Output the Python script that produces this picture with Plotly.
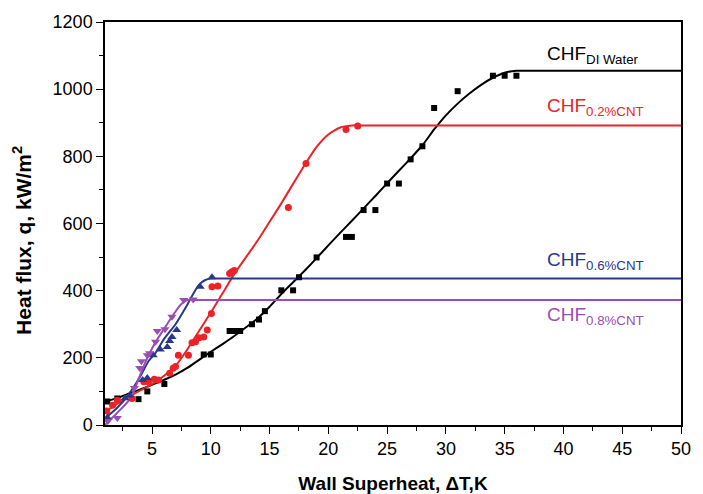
import plotly.graph_objects as go

# ---- measured points ----
di_x = [1.2, 2.05, 3.85, 4.6, 6.05, 9.4, 10.0, 11.6, 12.05, 12.5, 13.5, 14.1, 14.6, 16.0, 17.0, 17.5,
        19.0, 21.5, 22.0, 23.0, 24.0, 25.0, 26.0, 27.0, 28.0, 29.0, 31.0, 34.0, 35.0, 36.0]
di_q = [70, 79, 77, 100, 122, 210, 210, 280, 280, 280, 300, 314, 339, 401, 401, 440,
        499, 560, 560, 640, 640, 719, 719, 791, 830, 944, 994, 1040, 1040, 1040]

c02_x = [1.15, 1.65, 2.05, 3.3, 4.3, 4.7, 5.2, 5.55, 6.5, 6.8, 7.0, 7.24, 8.1, 8.4, 8.7, 9.0, 9.4, 9.7,
         10.05, 10.1, 10.6, 11.6, 11.8, 12.0, 16.6, 18.1, 21.5, 22.5]
c02_q = [42, 59, 74, 79, 129, 129, 136, 134, 154, 169, 174, 208, 208, 245, 248, 260, 262, 283,
         332, 412, 414, 451, 456, 460, 648, 779, 880, 890]

c06_x = [1.2, 2.7, 3.1, 4.2, 4.6, 5.1, 5.7, 6.3, 6.5, 6.7, 7.1, 9.1, 10.1]
c06_q = [22, 80, 88, 134, 140, 208, 225, 232, 250, 262, 283, 412, 440]

c08_x = [1.25, 2.05, 3.5, 3.95, 4.1, 4.6, 4.8, 5.3, 5.45, 6.1, 6.7, 7.7, 8.5]
c08_q = [12, 21, 110, 170, 190, 208, 214, 248, 280, 285, 322, 372, 374]

# ---- fitted curves ----
di_fit_x = [1, 2, 3, 4, 5, 6, 7, 8, 9, 10, 11, 12, 13, 14, 15, 16, 17, 18, 19, 20, 21, 22, 23, 24,
            25, 26, 27, 28, 29, 30, 31, 32, 33, 34, 35, 36, 37, 40, 45, 50]
di_fit_q = [69, 80, 93, 106, 120, 134, 150, 170, 194, 218, 241, 265, 291, 318, 352, 390, 425, 460,
            497, 535, 572, 608, 645, 682, 720, 757, 794, 833, 880, 922, 957, 987, 1013, 1034, 1049,
            1055, 1055, 1055, 1055, 1055]

c02_fit_x = [1, 2, 3, 4, 5, 6, 7, 8, 9, 10, 11, 12, 13, 14, 15, 16, 17, 18, 19, 20, 21, 22, 23, 26,
             30, 40, 50]
c02_fit_q = [40, 62, 83, 103, 122, 146, 176, 225, 280, 335, 392, 450, 500, 550, 605, 660, 718, 775,
             828, 865, 886, 892, 892, 892, 892, 892, 892]

c06_fit_x = [1, 2, 3, 4, 4.7, 5.3, 6, 7, 8, 8.5, 9, 9.5, 10, 11, 13, 20, 30, 40, 50]
c06_fit_q = [20, 50, 90, 145, 190, 215, 255, 300, 358, 390, 418, 431, 436, 436, 436, 436, 436, 436,
             436]

c08_fit_x = [1, 2, 3, 3.5, 4, 4.5, 5, 5.5, 6, 6.5, 7, 7.5, 8, 9, 11, 20, 30, 40, 50]
c08_fit_q = [0, 35, 72, 105, 150, 192, 228, 258, 285, 312, 338, 360, 372, 372, 372, 372, 372, 372,
             372]

BLACK = "#000000"
RED = "#ec2227"
BLUE = "#28398a"
PURPLE = "#9b4db5"

fig = go.Figure()

def fit(x, y, c):
    fig.add_trace(go.Scatter(x=x, y=y, mode="lines", line=dict(color=c, width=2, shape="spline",
                                                                smoothing=0.5),
                             showlegend=False, hoverinfo="skip"))

def pts(x, y, c, sym, size):
    fig.add_trace(go.Scatter(x=x, y=y, mode="markers", marker=dict(color=c, symbol=sym, size=size,
                                                                   line=dict(width=0)),
                             showlegend=False))

fit(di_fit_x, di_fit_q, BLACK)
fit(c02_fit_x, c02_fit_q, RED)
fit(c06_fit_x, c06_fit_q, BLUE)
fit(c08_fit_x, c08_fit_q, PURPLE)
pts(di_x, di_q, BLACK, "square", 6)
pts(c02_x, c02_q, RED, "circle", 7)
pts(c06_x, c06_q, BLUE, "triangle-up", 8)
pts(c08_x, c08_q, PURPLE, "triangle-down", 8)

labels = [
    ("CHF<sub>DI Water</sub>", 1101, BLACK),
    ("CHF<sub>0.2%CNT</sub>", 947, RED),
    ("CHF<sub>0.6%CNT</sub>", 489, BLUE),
    ("CHF<sub>0.8%CNT</sub>", 325, PURPLE),
]
for txt, yv, c in labels:
    fig.add_annotation(x=38.4, y=yv, text=txt, showarrow=False, xanchor="left", yanchor="middle",
                       font=dict(family="Liberation Sans, Arial", size=19, color=c))

tickfont = dict(family="Liberation Sans, Arial", size=18, color="#000")
titlefont = dict(family="Liberation Sans, Arial", size=19, color="#000", weight="bold")

# y-axis title placed as a rotated annotation
fig.add_annotation(xref="paper", yref="paper", x=-0.144, y=0.457, text="Heat flux, q, kW/m<sup>2</sup>",
                   textangle=-90, showarrow=False, xanchor="center", yanchor="middle",
                   font=dict(family="Liberation Sans, Arial", size=21, color="#000", weight="bold"))

fig.update_xaxes(range=[1, 50], tick0=0, dtick=5, ticks="outside", ticklen=7, tickwidth=1.3,
                 tickcolor="#000", showline=True, linecolor="#000", linewidth=1.5, mirror=True,
                 showgrid=False, zeroline=False, tickfont=tickfont,
                 minor=dict(tick0=0, dtick=2.5, ticks="outside", ticklen=4, tickcolor="#000"),
                 title=dict(text="Wall Superheat, ΔT,K", font=titlefont, standoff=21))
fig.update_yaxes(range=[0, 1200], tick0=0, dtick=200, ticks="outside", ticklen=7, tickwidth=1.3,
                 tickcolor="#000", showline=True, linecolor="#000", linewidth=1.5, mirror=True,
                 showgrid=False, zeroline=False, tickfont=tickfont,
                 minor=dict(tick0=0, dtick=100, ticks="outside", ticklen=4, tickcolor="#000"))

# page body has an 8px margin, so size/margins are offset accordingly
fig.update_layout(width=695, height=486, margin=dict(l=97, r=22, t=14, b=69, autoexpand=False),
                  plot_bgcolor="white", paper_bgcolor="white")

fig.write_html("out.html")
